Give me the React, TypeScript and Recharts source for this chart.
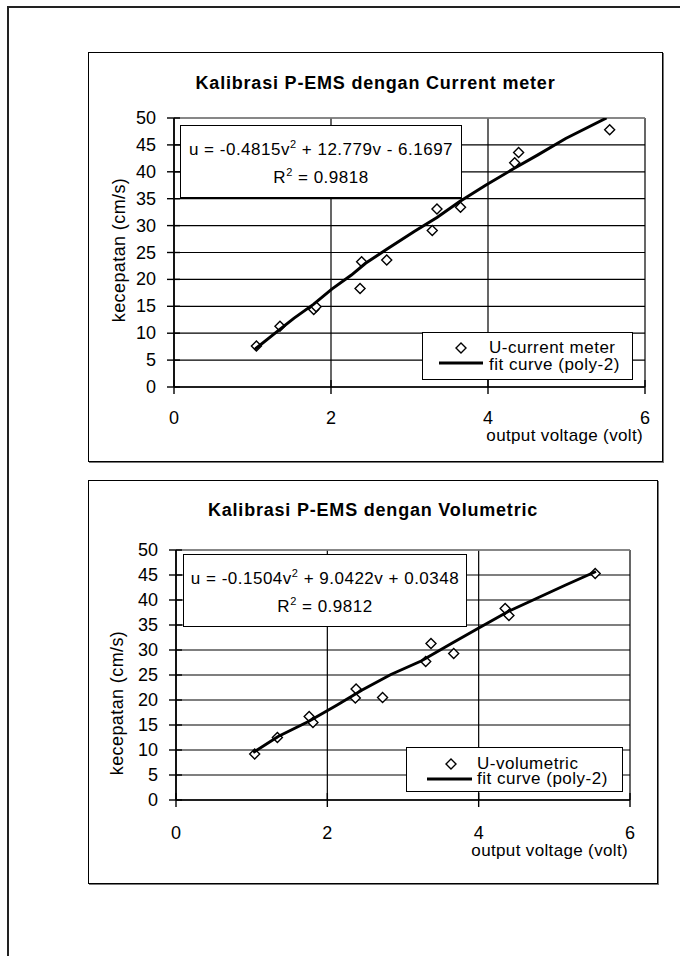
import React from 'react';
import { ScatterChart, Scatter, XAxis, YAxis, CartesianGrid, ReferenceLine, Legend } from 'recharts';

const FONT = '"Liberation Sans", Arial, Helvetica, sans-serif';

// ---------- shared axis ticks ----------
const voltTicks = [0, 2, 4, 6];
const speedTicks = [0, 5, 10, 15, 20, 25, 30, 35, 40, 45, 50];
const xAxisTitle = 'output voltage (volt)';
const yAxisTitle = 'kecepatan (cm/s)';
const fitName = 'fit curve (poly-2)';

// ---------- chart 1: current meter ----------
const cmTitle = 'Kalibrasi P-EMS dengan Current meter';
const cmEqMain = 'u = -0.4815v';
const cmEqRest = ' + 12.779v - 6.1697';
const cmR2 = ' = 0.9818';
const cmName = 'U-current meter';
const cmVolt = [1.05, 1.35, 1.78, 1.81, 2.37, 2.39, 2.71, 3.29, 3.35, 3.65, 4.34, 4.39, 5.55];
const cmSpeed = [7.6, 11.3, 14.4, 14.9, 18.3, 23.3, 23.6, 29.1, 33.1, 33.4, 41.7, 43.6, 47.8];
const cmFitVolt = [1.03, 1.32, 1.53, 1.78, 2.01, 2.26, 2.44, 2.71, 3.06, 3.35, 3.63, 3.97, 4.33, 4.63, 4.99, 5.51];
const cmFitSpeed = [7.0, 10.4, 12.8, 15.4, 18.2, 20.8, 23.0, 25.6, 28.9, 31.5, 34.4, 37.5, 40.6, 43.1, 46.2, 50.0];

// ---------- chart 2: volumetric ----------
const volTitle = 'Kalibrasi P-EMS dengan Volumetric';
const volEqMain = 'u = -0.1504v';
const volEqRest = ' + 9.0422v + 0.0348';
const volR2 = ' = 0.9812';
const volName = 'U-volumetric';
const volVolt = [1.04, 1.34, 1.76, 1.81, 2.37, 2.38, 2.73, 3.30, 3.37, 3.67, 4.35, 4.40, 5.54];
const volSpeed = [9.2, 12.5, 16.7, 15.5, 20.4, 22.2, 20.5, 27.7, 31.3, 29.3, 38.3, 36.9, 45.3];
const volFitVolt = [1.02, 1.35, 1.75, 2.13, 2.46, 2.84, 3.24, 3.64, 3.99, 4.39, 4.82, 5.15, 5.55];
const volFitSpeed = [9.5, 12.7, 15.7, 19.0, 22.0, 25.1, 27.8, 31.3, 34.3, 37.7, 40.7, 43.0, 45.7];

const toPoints = (xs: number[], ys: number[]) => xs.map((v, i) => ({ v, u: ys[i] }));

const Diamond = (p: any) => {
  const { cx, cy } = p;
  if (cx == null || cy == null) return <g />;
  const r = 5;
  return (
    <path
      d={`M${cx},${cy - r}L${cx + r},${cy}L${cx},${cy + r}L${cx - r},${cy}Z`}
      fill="#fff"
      stroke="#000"
      strokeWidth={1.4}
    />
  );
};

const NoShape = () => <g />;

type Geo = {
  box: { left: number; top: number; width: number; height: number };
  m: { left: number; top: number; right: number; bottom: number };
  titleY: number;
  yLab: { x: number; y: number };
  xLab: { x: number; y: number };
  xTickOff: number;
  eq: { left: number; top: number; width: number; height: number };
  lg: { left: number; top: number; width: number; height: number; mx: number; my: number; lx1: number; lx2: number; ly: number; tx: number; r1: number; r2: number };
};

function CalChart(props: {
  geo: Geo; title: string; eqMain: string; eqRest: string; r2: string; name: string;
  pts: { v: number; u: number }[]; fit: { v: number; u: number }[];
}) {
  const { geo, title, eqMain, eqRest, r2, name, pts, fit } = props;
  const W = geo.box.width - 2;
  const H = geo.box.height - 2;

  const YTick = (p: any) => {
    const { x, y, payload } = p;
    return (
      <g>
        <line x1={x - 7} x2={x + 6} y1={y} y2={y} stroke="#000" strokeWidth={1.4} />
        <text x={x - 18} y={y} textAnchor="end" dominantBaseline="central" fontFamily={FONT} fontSize={18} fill="#000">
          {payload.value}
        </text>
      </g>
    );
  };
  const XTick = (p: any) => {
    const { x, y, payload } = p;
    return (
      <g>
        <line x1={x} x2={x} y1={y - 7} y2={y + 7} stroke="#000" strokeWidth={1.4} />
        <text x={x} y={y + geo.xTickOff} textAnchor="middle" dominantBaseline="central" fontFamily={FONT} fontSize={18} fill="#000">
          {payload.value}
        </text>
      </g>
    );
  };

  const legendContent = (lp: any) => {
    const payload = lp && lp.payload ? lp.payload : [];
    const names = payload.map((e: any) => e.value);
    const n1 = names[0] ?? name;
    const n2 = names[1] ?? fitName;
    const L = geo.lg;
    const txt: React.CSSProperties = {
      position: 'absolute', left: L.tx, height: 20, lineHeight: '20px', fontFamily: FONT,
      fontSize: 17, letterSpacing: 0.5, whiteSpace: 'nowrap', color: '#000',
    };
    return (
      <div style={{ position: 'relative', width: L.width, height: L.height, boxSizing: 'border-box', border: '1.5px solid #000', background: '#fff' }}>
        <svg style={{ position: 'absolute', left: 0, top: 0 }} width={L.width} height={L.height}>
          <path d={`M${L.mx},${L.my - 5}L${L.mx + 5},${L.my}L${L.mx},${L.my + 5}L${L.mx - 5},${L.my}Z`} fill="#fff" stroke="#000" strokeWidth={1.4} />
          <line x1={L.lx1} x2={L.lx2} y1={L.ly} y2={L.ly} stroke="#000" strokeWidth={3} />
        </svg>
        <div style={{ ...txt, top: L.r1 - 10 }}>{n1}</div>
        <div style={{ ...txt, top: L.r2 - 10 }}>{n2}</div>
      </div>
    );
  };

  return (
    <div
      style={{
        position: 'absolute', left: geo.box.left, top: geo.box.top, width: geo.box.width, height: geo.box.height,
        boxSizing: 'border-box', border: '1px solid #000', boxShadow: '1px 1px 0 #777', background: '#fff',
      }}
    >
      <div
        style={{
          position: 'absolute', left: 0, top: geo.titleY - 12, width: W, height: 24, lineHeight: '24px',
          textAlign: 'center', fontFamily: FONT, fontWeight: 'bold', fontSize: 18, letterSpacing: 0.8, color: '#000', zIndex: 2,
        }}
      >
        {title}
      </div>
      <ScatterChart width={W} height={H} margin={{ top: geo.m.top, right: geo.m.right, left: 0, bottom: 0 }}>
        <CartesianGrid stroke="#000" strokeWidth={1.2} />
        <XAxis
          type="number" dataKey="v" domain={[0, 6]} ticks={voltTicks} allowDataOverflow
          height={geo.m.bottom} tickLine={false} tickSize={0} tickMargin={0}
          axisLine={{ stroke: '#000', strokeWidth: 1.6 }} tick={XTick} interval={0}
          label={{
            content: () => (
              <text x={geo.xLab.x} y={geo.xLab.y} textAnchor="end" dominantBaseline="central" fontFamily={FONT} fontSize={17} letterSpacing={0.35} fill="#000">
                {xAxisTitle}
              </text>
            ),
          }}
        />
        <YAxis
          type="number" dataKey="u" domain={[0, 50]} ticks={speedTicks} allowDataOverflow
          width={geo.m.left} tickLine={false} tickSize={0} tickMargin={0}
          axisLine={{ stroke: '#000', strokeWidth: 1.6 }} tick={YTick} interval={0}
          label={{
            content: () => (
              <text
                x={geo.yLab.x} y={geo.yLab.y} textAnchor="middle" dominantBaseline="central"
                transform={`rotate(-90 ${geo.yLab.x} ${geo.yLab.y})`}
                fontFamily={FONT} fontSize={18} letterSpacing={0.4} fill="#000"
              >
                {yAxisTitle}
              </text>
            ),
          }}
        />
        <ReferenceLine y={50} stroke="#8a8a8a" strokeWidth={1.6} ifOverflow="extendDomain" />
        <Scatter name={name} data={pts} shape={Diamond} isAnimationActive={false} />
        <Scatter
          name={fitName} data={fit} shape={NoShape} line={{ stroke: '#000', strokeWidth: 3 }}
          lineType="joint" isAnimationActive={false}
        />
        <Legend
          layout="horizontal" verticalAlign="middle" align="center"
          wrapperStyle={{ position: 'absolute', left: geo.lg.left, top: geo.lg.top, width: geo.lg.width, height: geo.lg.height }}
          content={legendContent}
        />
      </ScatterChart>
      <div
        style={{
          position: 'absolute', left: geo.eq.left, top: geo.eq.top, width: geo.eq.width, height: geo.eq.height,
          boxSizing: 'border-box', border: '1.5px solid #000', background: '#fff', fontFamily: FONT, fontSize: 17,
          letterSpacing: 0.5, textAlign: 'center', color: '#000', paddingTop: 10, lineHeight: '28px',
        }}
      >
        <div style={{ height: 28, whiteSpace: 'nowrap' }}>
          {eqMain}
          <span style={{ position: 'relative', top: -7, fontSize: 11 }}>2</span>
          {eqRest}
        </div>
        <div style={{ height: 28, whiteSpace: 'nowrap' }}>
          R<span style={{ position: 'relative', top: -7, fontSize: 11 }}>2</span>
          {r2}
        </div>
      </div>
    </div>
  );
}

const geoTop: Geo = {
  box: { left: 88, top: 52, width: 575, height: 410 },
  m: { left: 85, top: 65, right: 17, bottom: 74 },
  titleY: 30,
  yLab: { x: 30, y: 197 },
  xLab: { x: 554, y: 382 },
  xTickOff: 31,
  eq: { left: 91, top: 72, width: 282, height: 73 },
  lg: { left: 333, top: 279, width: 211, height: 48, mx: 38, my: 15, lx1: 16, lx2: 60, ly: 30, tx: 66, r1: 15, r2: 32 },
};

const geoBottom: Geo = {
  box: { left: 88, top: 480, width: 570, height: 404 },
  m: { left: 87, top: 69, right: 27, bottom: 83 },
  titleY: 29,
  yLab: { x: 28, y: 222 },
  xLab: { x: 539, y: 369 },
  xTickOff: 33,
  eq: { left: 94, top: 73, width: 284, height: 73 },
  lg: { left: 317, top: 266, width: 217, height: 45, mx: 44, my: 16, lx1: 20, lx2: 65, ly: 31, tx: 70, r1: 16, r2: 31 },
};

export default function App() {
  return (
    <div style={{ position: 'relative', width: 680, height: 956, overflow: 'hidden', background: '#fff' }}>
      <style>{'body{margin:0;}'}</style>
      <div
        style={{
          position: 'absolute', left: 7, top: 6, width: 673, height: 950, boxSizing: 'border-box',
          borderTop: '2px solid #222', borderLeft: '2px solid #222',
        }}
      />
      <CalChart
        geo={geoTop} title={cmTitle} eqMain={cmEqMain} eqRest={cmEqRest} r2={cmR2} name={cmName}
        pts={toPoints(cmVolt, cmSpeed)} fit={toPoints(cmFitVolt, cmFitSpeed)}
      />
      <CalChart
        geo={geoBottom} title={volTitle} eqMain={volEqMain} eqRest={volEqRest} r2={volR2} name={volName}
        pts={toPoints(volVolt, volSpeed)} fit={toPoints(volFitVolt, volFitSpeed)}
      />
    </div>
  );
}
